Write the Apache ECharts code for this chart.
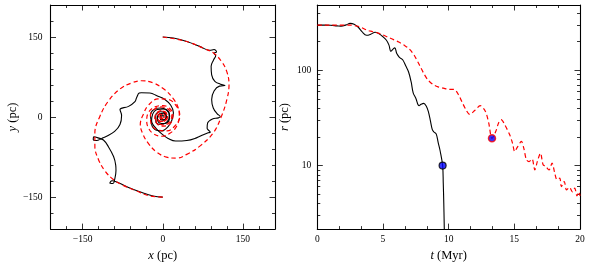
<!DOCTYPE html>
<html>
<head>
<meta charset="utf-8">
<script src="https://cdn.jsdelivr.net/npm/echarts@6/dist/echarts.min.js"></script>
<style>html,body{margin:0;padding:0;background:#fff}#c{width:591px;height:267px}</style>
</head>
<body>
<div id="c"></div>
<script>
// ---- Left panel: trajectories (pc) ----
const blackArmA = [[0,150],[20,148],[45,141.6],[70,132],[88,125],[96,126.5],[100.5,122],[96,119.5],[99,115],[95,107],[90.5,95],[91.5,79],[97.5,67],[108,61.5],[116.5,59],[106,58],[96,49],[91.5,33],[94.5,17],[102,6],[107.5,1],[104,-1.5],[93,-3.5],[84,-11],[83,-21],[87,-26],[89,-28.5],[85,-29.5],[76,-33],[63,-39],[45,-44],[24,-45],[10,-40],[0,-33],[-11,-23],[-20,-11],[-23,4],[-17,14],[-5,17],[7,13],[13,2],[7,-10],[-5,-14],[-13,-8],[-13,4],[-5,10],[4,8],[7,0],[2,-6],[-4,-5],[-5,1],[-1,4],[2,1]];
const blackArmB = [[0,-150],[-18,-148],[-43,-140],[-64,-132],[-83,-123],[-95,-119.5],[-99,-124],[-93,-124.5],[-90,-117],[-87.5,-100],[-88,-90],[-92,-74],[-102,-55],[-111,-43],[-121,-39],[-129,-37],[-130,-42],[-124,-44],[-114,-40],[-105,-36],[-90,-27],[-80,-14],[-77,3],[-80,14],[-64,20],[-52,29],[-49,36],[-44,45],[-40,45.5],[-24,45],[-11,40],[4,33],[15,22],[20,8],[17,-6],[10,-18],[-2,-26],[-15,-23],[-21,-10],[-19,5],[-10,14],[3,15],[12,7],[12,-5],[4,-12],[-6,-11],[-10,-2],[-6,6],[2,7],[6,1],[3,-5],[-3,-4],[-3,2],[1,2]];
const redArmA = [[0,150],[26,146],[51,139.5],[76,129],[95,120],[110,104],[119.5,86],[124,61],[120,33],[110,2],[95,-29],[70,-54],[45,-70],[26,-77],[7,-75],[-11,-66],[-28,-48],[-38,-30],[-42,-14],[-36,6],[-27,22],[-9,34],[10,33],[26,20],[32,2],[24,-15],[8,-26],[-10,-24],[-22,-12],[-23,4],[-15,15],[-2,19],[11,14],[17,3],[13,-9],[3,-15],[-8,-12],[-13,-3],[-10,7],[-2,11],[6,8],[9,0],[5,-7],[-3,-8],[-8,-3],[-7,4],[-1,6],[4,3],[4,-3],[-1,-4],[-4,-1],[-2,2],[-5,0]];
const redArmB = [[0,-150],[-24,-148],[-49,-138.5],[-74,-128],[-92.5,-117],[-108,-101],[-120.5,-79],[-127,-54.5],[-127,-30],[-117.5,1.6],[-102,29.6],[-80,52.6],[-58,64],[-40,68],[-18,64],[4,51],[20,34],[29,17],[31,2],[26,-17],[14,-30],[-2,-36],[-18,-31],[-27,-20],[-30,-8],[-27,8],[-14.5,19],[1,21.5],[13,16],[19,5],[17,-8],[8,-16],[-3,-17],[-12,-11],[-15,-1],[-11,8],[-3,12],[5,9],[8,2],[5,-6],[-2,-9],[-8,-6],[-9,1],[-5,5],[0,4],[1,-1],[-3,-3],[-5,-1]];

// ---- Right panel: r(t) ----
const tBlack = [0,0.5,1.0,1.5,1.8,2.2,2.5,2.8,3.1,3.4,3.75,4.1,4.4,4.7,4.95,5.25,5.45,5.6,5.75,5.9,6.05,6.25,6.5,6.75,6.95,7.15,7.3,7.5,7.75,7.9,8.1,8.3,8.45,8.6,8.75,8.88,9.05,9.2,9.35,9.54,9.59,9.63,9.67];
const rBlack = [298,298,297,293,291,300,311,305,285,255,233,240,251,242,228,208,185,158,166,172,150,137,129,110,96,75,58,51,42.5,44,45,42,37,30,24,22.5,21.5,17.5,14.3,10,6.5,4,2.1];
const tRed = [0,0.5,1.0,1.5,2.0,2.5,3.0,3.4,3.8,4.2,4.6,5.0,5.4,5.8,6.2,6.6,7.0,7.4,7.8,8.1,8.4,8.8,9.2,9.6,10.0,10.4,10.7,11.0,11.3,11.6,12.0,12.4,12.8,13.05,13.3,13.6,13.8,14.0,14.27,14.65,14.86,15.03,15.2,15.54,15.72,15.92,16.12,16.35,16.56,16.75,16.99,17.19,17.39,17.64,17.87,18.08,18.25,18.46,18.58,18.8,18.97,19.2,19.42,19.6,19.77,19.92,20];
const rRed = [298,298,298,298,298,298,292,280,263,255,247,235,222,210,198,184,168,142,112,93,80,71,67,65,63,63,57,47,39,34.5,38,42.5,37,28,19.3,23,28,30.3,26.8,21,17.2,14,15.3,17.9,15.2,11.5,11,11.7,9.0,11,13.5,10.2,9.8,9.0,10.6,8.3,7.1,7.4,6.0,6.8,5.55,5.9,5.3,5.8,4.8,5.3,4.8];
const markBlack = [9.54, 10];
const markRed = [13.3, 19.3];

// ---- Tick values ----
const xyMajor = [-150, 0, 150];
const xyMinor = [-180,-120,-90,-60,-30,30,60,90,120,180];
const tMajor = [0, 5, 10, 15, 20];
const tMinor = [1.667,3.333,6.667,8.333,11.667,13.333,16.667,18.333];
const rMajor = [10, 100];
const rMinor = [3,4,5,6,7,8,9,20,30,40,50,60,70,80,90,200,300,400];
const rMin = 2.15, rMax = 485;

const FONT = 'Liberation Serif';
const lg = v => Math.log10(v);

function axis(dim, grid, pos, min, max, vals, len, opts) {
  opts = opts || {};
  const a = {
    type: 'value', gridIndex: grid, position: pos, min: min, max: max,
    splitLine: {show: false},
    axisLine: {show: !!opts.line, onZero: false, lineStyle: {color: '#000', width: 1.1}},
    axisTick: {show: true, inside: true, length: len, customValues: vals, lineStyle: {color: '#000', width: 0.8}},
    axisLabel: {show: !!opts.label, customValues: vals, fontFamily: FONT, fontSize: 9.5, color: '#000',
      margin: opts.margin || 6, formatter: opts.fmt || (v => String(v).replace('-', '\u2212'))},
  };
  if (opts.name) {
    a.name = opts.name; a.nameLocation = 'middle'; a.nameGap = opts.nameGap;
    a.nameTextStyle = {fontFamily: FONT, fontSize: 12.5, color: '#000', rich: {i: {fontFamily: FONT, fontStyle: 'italic', fontSize: 12.5, color: '#000'}}};
  }
  return a;
}

const xAxes = [
  axis('x', 0, 'bottom', -210, 210, xyMajor, 5.5, {line: true, label: true, margin: 5, name: '{i|x} (pc)', nameGap: 18}),
  axis('x', 0, 'bottom', -210, 210, xyMinor, 3),
  axis('x', 0, 'top', -210, 210, xyMajor, 5.5, {line: true}),
  axis('x', 0, 'top', -210, 210, xyMinor, 3),
  axis('x', 1, 'bottom', 0, 20, tMajor, 5.5, {line: true, label: true, margin: 5, name: '{i|t} (Myr)', nameGap: 18}),
  axis('x', 1, 'bottom', 0, 20, tMinor, 3),
  axis('x', 1, 'top', 0, 20, tMajor, 5.5, {line: true}),
  axis('x', 1, 'top', 0, 20, tMinor, 3),
];
const rfmt = v => String(Math.round(Math.pow(10, v)));
const yAxes = [
  axis('y', 0, 'left', -210, 210, xyMajor, 5.5, {line: true, label: true, margin: 8, name: '{i|y} (pc)', nameGap: 29}),
  axis('y', 0, 'left', -210, 210, xyMinor, 3),
  axis('y', 0, 'right', -210, 210, xyMajor, 5.5, {line: true}),
  axis('y', 0, 'right', -210, 210, xyMinor, 3),
  axis('y', 1, 'left', lg(rMin), lg(rMax), rMajor.map(lg), 5.5, {line: true, label: true, margin: 6, fmt: rfmt, name: '{i|r} (pc)', nameGap: 26}),
  axis('y', 1, 'left', lg(rMin), lg(rMax), rMinor.map(lg), 3),
  axis('y', 1, 'right', lg(rMin), lg(rMax), rMajor.map(lg), 5.5, {line: true}),
  axis('y', 1, 'right', lg(rMin), lg(rMax), rMinor.map(lg), 3),
];
yAxes.forEach(a => { if (a.name) a.nameRotate = 90; });

const blackStyle = {color: '#000', width: 1.1};
const redStyle = {color: '#f00', width: 1.2, type: [4.5, 3]};
function line(data, style, xi, yi, z, sm) {
  return {type: 'line', data: data, xAxisIndex: xi, yAxisIndex: yi, showSymbol: false, symbol: 'none',
    smooth: sm == null ? 0.4 : sm, smoothMonotone: null, lineStyle: style, z: z, silent: true, clip: true};
}

const series = [
  line(blackArmA, blackStyle, 0, 0, 2),
  line(blackArmB, blackStyle, 0, 0, 2),
  line(redArmA, redStyle, 0, 0, 3),
  line(redArmB, redStyle, 0, 0, 3),
  line(tBlack.map((t, i) => [t, lg(rBlack[i])]), blackStyle, 4, 4, 2),
  line(tRed.map((t, i) => [t, lg(rRed[i])]), redStyle, 4, 4, 3, 0.3),
  {type: 'scatter', xAxisIndex: 4, yAxisIndex: 4, z: 5, symbolSize: 7,
   data: [[markBlack[0], lg(markBlack[1])]], itemStyle: {color: '#0000ff', borderColor: '#000', borderWidth: 1.2}},
  {type: 'scatter', xAxisIndex: 4, yAxisIndex: 4, z: 5, symbolSize: 7,
   data: [[markRed[0], lg(markRed[1])]], itemStyle: {color: '#0000ff', borderColor: '#f00', borderWidth: 1.5}},
];

const chart = echarts.init(document.getElementById('c'), null, {renderer: 'canvas'});
chart.setOption({
  animation: false,
  backgroundColor: '#fff',
  grid: [
    {left: 50.5, top: 5, width: 224.5, height: 225},
    {left: 317.3, top: 5, width: 262.7, height: 225},
  ],
  xAxis: xAxes,
  yAxis: yAxes,
  series: series,
});
</script>
</body>
</html>
